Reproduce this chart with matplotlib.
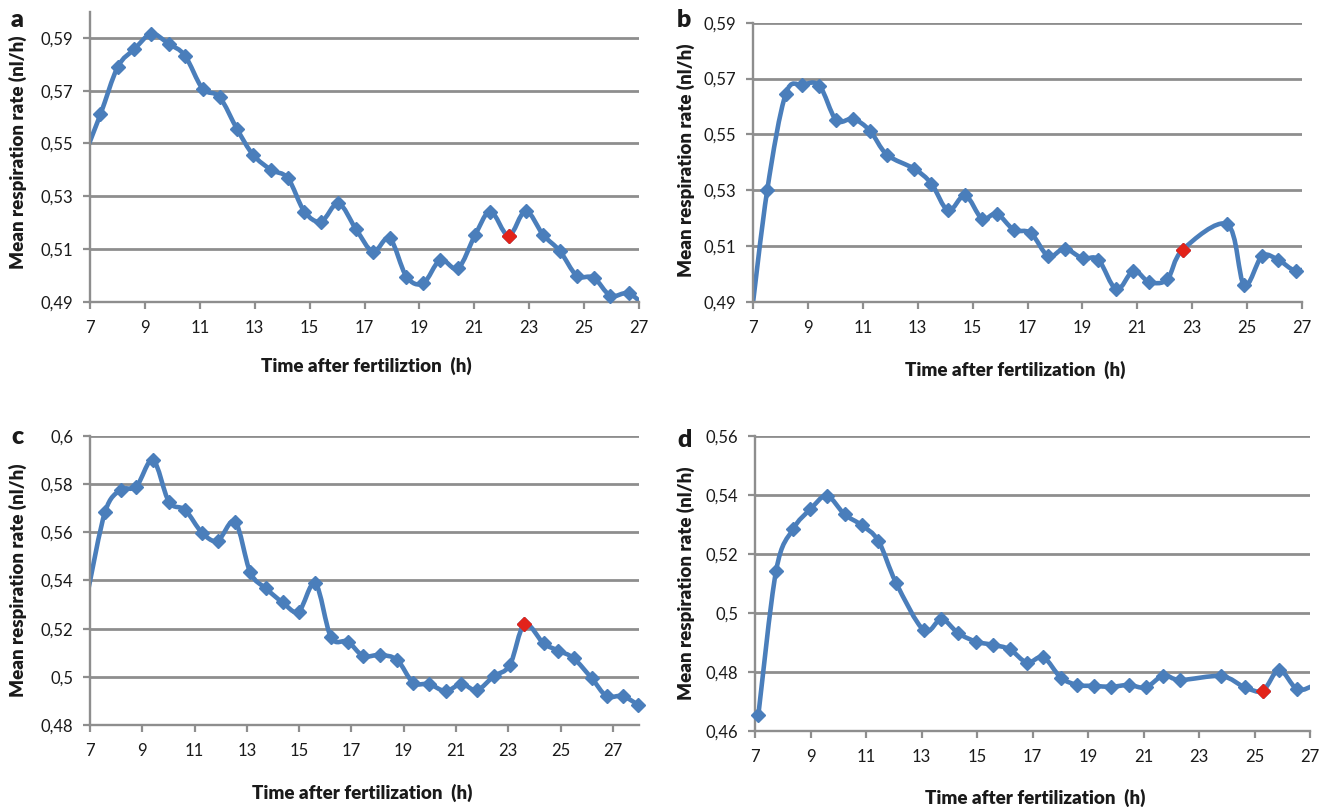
import numpy as np
import matplotlib
matplotlib.use("Agg")
import matplotlib.pyplot as plt
from matplotlib.path import Path
from matplotlib.patches import PathPatch
from matplotlib.ticker import FixedLocator, FuncFormatter

plt.rcParams['font.family'] = ['Lato', 'DejaVu Sans']

# ---------------------------------------------------------------- data
x_ticks = [7, 9, 11, 13, 15, 17, 19, 21, 23, 25, 27]

# (a)
a_x = [6.76, 7.38, 8.01, 8.62, 9.24, 9.88, 10.46, 11.10, 11.72, 12.36, 12.94,
       13.60, 14.21, 14.81, 15.42, 16.05, 16.69, 17.31, 17.92, 18.53, 19.14,
       19.76, 20.41, 21.03, 21.59, 22.25, 22.87, 23.51, 24.12, 24.73, 25.35,
       25.96, 26.62, 27.24]
a_y = [0.5445, 0.561, 0.579, 0.5858, 0.5915, 0.5877, 0.5833, 0.5708, 0.5676,
       0.5554, 0.5457, 0.540, 0.5368, 0.5242, 0.5204, 0.5273, 0.5175, 0.509,
       0.514, 0.4995, 0.497, 0.5058, 0.5027, 0.5153, 0.5242, 0.515, 0.5244,
       0.5153, 0.5092, 0.4999, 0.4991, 0.4923, 0.4932, 0.488]
a_hi = 25
a_yticks = [0.49, 0.51, 0.53, 0.55, 0.57, 0.59]

# (b)
b_x = [6.92, 7.52, 8.19, 8.80, 9.42, 10.03, 10.65, 11.26, 11.88, 12.88, 13.50,
       14.11, 14.73, 15.34, 15.88, 16.50, 17.12, 17.76, 18.35, 19.01, 19.58,
       20.24, 20.86, 21.43, 22.09, 22.66, 24.28, 24.89, 25.54, 26.12, 26.77,
       27.40]
b_y = [0.483, 0.5301, 0.5644, 0.5677, 0.5674, 0.5551, 0.5555, 0.5513, 0.5427,
       0.5376, 0.5323, 0.5227, 0.5281, 0.5198, 0.5215, 0.5158, 0.5146, 0.5063,
       0.509, 0.5055, 0.5051, 0.4944, 0.5011, 0.4971, 0.498, 0.5087, 0.5177,
       0.496, 0.5063, 0.5051, 0.5011, 0.503]
b_hi = 25
b_yticks = [0.49, 0.51, 0.53, 0.55, 0.57, 0.59]

# (c)
c_x = [6.95, 7.58, 8.17, 8.77, 9.41, 10.02, 10.64, 11.28, 11.88, 12.55, 13.13,
       13.73, 14.37, 14.98, 15.62, 16.22, 16.86, 17.45, 18.10, 18.75, 19.36,
       19.97, 20.60, 21.21, 21.80, 22.45, 23.06, 23.62, 24.35, 24.91, 25.50,
       26.19, 26.76, 27.37, 27.98]
c_y = [0.537, 0.5686, 0.5776, 0.579, 0.590, 0.5727, 0.5693, 0.5599, 0.5565,
       0.5644, 0.5434, 0.5367, 0.5309, 0.5271, 0.5388, 0.5164, 0.5146, 0.5087,
       0.5091, 0.507, 0.4976, 0.497, 0.4941, 0.497, 0.4945, 0.5003, 0.5049,
       0.5218, 0.5139, 0.5109, 0.5077, 0.4994, 0.492, 0.492, 0.4883]
c_hi = 27
c_yticks = [0.48, 0.50, 0.52, 0.54, 0.56, 0.58, 0.60]

# (d)
d_x = [7.12, 7.76, 8.37, 8.99, 9.59, 10.23, 10.84, 11.45, 12.08, 13.08, 13.72,
       14.33, 14.97, 15.57, 16.18, 16.80, 17.39, 18.02, 18.62, 19.23, 19.84,
       20.47, 21.08, 21.72, 22.33, 23.81, 24.65, 25.30, 25.89, 26.54, 27.15]
d_y = [0.4654, 0.5143, 0.5284, 0.5351, 0.5397, 0.5334, 0.5298, 0.5244, 0.5103,
       0.4942, 0.4979, 0.4931, 0.4903, 0.4892, 0.4877, 0.4832, 0.485, 0.4781,
       0.4756, 0.4753, 0.475, 0.4756, 0.4748, 0.4788, 0.4773, 0.4786, 0.4748,
       0.4737, 0.4807, 0.4741, 0.4755]
d_hi = 27
d_yticks = [0.46, 0.48, 0.50, 0.52, 0.54, 0.56]

y_label = "Mean respiration rate (nl/h)"

# ---------------------------------------------------------------- style
BLUE = "#4a7ebb"
RED = "#e2231a"
GRID = "#8e8e8e"
TXT = "#1a1a1a"

W, H = 1333, 807
fig = plt.figure(figsize=(W / 100, H / 100), dpi=100)
fig.patch.set_facecolor("white")


def px_rect(left, top, right, bottom):
    return [left / W, 1 - bottom / H, (right - left) / W, (bottom - top) / H]


def smooth_path(x, y):
    """Cubic Bezier path through the points (Catmull-Rom style tangents)."""
    pts = np.column_stack([x, y]).astype(float)
    n = len(pts)
    verts = [pts[0]]
    codes = [Path.MOVETO]
    for i in range(n - 1):
        p0 = pts[max(i - 1, 0)]
        p1 = pts[i]
        p2 = pts[i + 1]
        p3 = pts[min(i + 2, n - 1)]
        verts += [p1 + (p2 - p0) / 6.0, p2 - (p3 - p1) / 6.0, p2]
        codes += [Path.CURVE4] * 3
    return Path(verts, codes)


def comma_fmt(v, _pos):
    return f"{v:g}".replace(".", ",")


panels = [
    dict(letter="a", x=a_x, y=a_y, hi=a_hi, yt=a_yticks, ylim=(0.49, 0.60),
         xlim=(7, 27), rect=px_rect(90, 11.6, 639, 301.7),
         xlabel="Time after fertiliztion  (h)", xl=(366, 366), yl=(18, 152),
         lp=(17, 20)),
    dict(letter="b", x=b_x, y=b_y, hi=b_hi, yt=b_yticks, ylim=(0.49, 0.59),
         xlim=(7, 27), rect=px_rect(753, 22.7, 1302, 301.7),
         xlabel="Time after fertilization  (h)", xl=(1015, 370), yl=(686, 160),
         lp=(684, 20)),
    dict(letter="c", x=c_x, y=c_y, hi=c_hi, yt=c_yticks, ylim=(0.48, 0.60),
         xlim=(7, 28), rect=px_rect(90, 436, 639, 725),
         xlabel="Time after fertilization  (h)", xl=(362, 793), yl=(18, 580),
         lp=(17, 437)),
    dict(letter="d", x=d_x, y=d_y, hi=d_hi, yt=d_yticks, ylim=(0.46, 0.56),
         xlim=(7, 27), rect=px_rect(755, 436, 1310, 731),
         xlabel="Time after fertilization  (h)", xl=(1035, 798), yl=(686, 583),
         lp=(685, 440)),
]

for p in panels:
    ax = fig.add_axes(p["rect"])
    ax.set_xlim(*p["xlim"])
    ax.set_ylim(*p["ylim"])
    ax.set_facecolor("white")

    for side in ("top", "right"):
        ax.spines[side].set_visible(False)
    for side in ("left", "bottom"):
        ax.spines[side].set_color(GRID)
        ax.spines[side].set_linewidth(1.7)

    ax.xaxis.set_major_locator(FixedLocator(x_ticks))
    ax.yaxis.set_major_locator(FixedLocator(p["yt"]))
    ax.yaxis.set_major_formatter(FuncFormatter(comma_fmt))
    ax.tick_params(axis="both", direction="out", length=5, width=1.6,
                   color=GRID, labelsize=12, labelcolor=TXT)
    ax.tick_params(axis="x", pad=8)
    ax.tick_params(axis="y", pad=7)

    ax.set_axisbelow(True)
    ax.yaxis.grid(True, color=GRID, linewidth=2.0)
    ax.xaxis.grid(False)

    x = np.asarray(p["x"])
    y = np.asarray(p["y"])

    line = PathPatch(smooth_path(x, y), facecolor="none", edgecolor=BLUE,
                     linewidth=3.3, capstyle="round", joinstyle="round",
                     transform=ax.transData, zorder=2)
    ax.add_patch(line)

    inside = (x >= p["xlim"][0]) & (x <= p["xlim"][1])
    ax.plot(x[inside], y[inside], ls="none", marker="D", ms=7.2, mew=1,
            color=BLUE, clip_on=False, zorder=3)
    hi = p["hi"]
    ax.plot([x[hi]], [y[hi]], ls="none", marker="D", ms=7.2, mew=1,
            color=RED, clip_on=False, zorder=4)

    fig.text(p["xl"][0] / W, 1 - p["xl"][1] / H, p["xlabel"], ha="center",
             va="center", fontsize=13.5, fontweight="heavy", color=TXT)
    fig.text(p["yl"][0] / W, 1 - p["yl"][1] / H, y_label, ha="center",
             va="center", rotation=90, fontsize=13.5, fontweight="heavy",
             color=TXT)
    fig.text(p["lp"][0] / W, 1 - p["lp"][1] / H, p["letter"], ha="center",
             va="center", fontsize=18, fontweight="heavy", color=TXT)

fig.savefig("out.png", dpi=100, facecolor="white")
